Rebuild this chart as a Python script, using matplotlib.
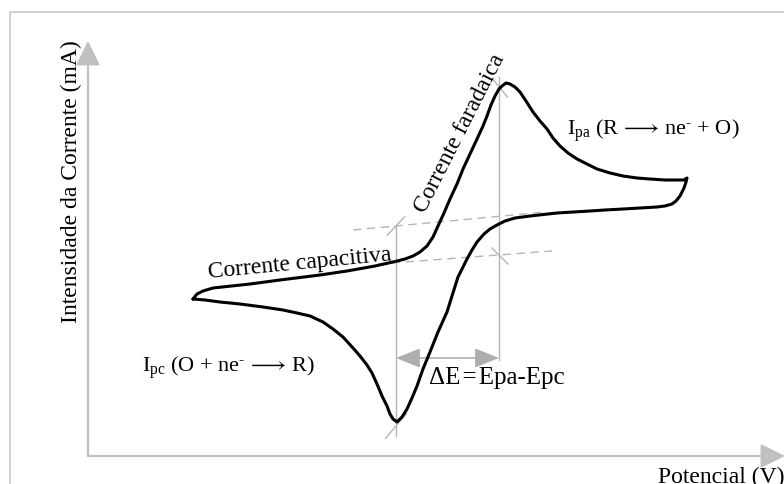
import matplotlib
matplotlib.use("Agg")
import matplotlib.pyplot as plt
from matplotlib.patches import FancyArrowPatch

plt.rcParams["font.family"] = ["Liberation Serif", "STIXGeneral", "DejaVu Serif"]
plt.rcParams["mathtext.fontset"] = "custom"
plt.rcParams["mathtext.rm"] = "Liberation Serif"
plt.rcParams["mathtext.it"] = "Liberation Serif:italic"
plt.rcParams["mathtext.fallback"] = "stix"

# Schematic cyclic voltammogram (arbitrary units)
# forward (anodic) scan, left vertex -> right vertex
E_fwd = [1.05, 1.09, 1.15, 1.25, 1.62, 1.92, 2.32, 2.59, 2.87, 3.05, 3.17, 3.25,
         3.32, 3.39, 3.45, 3.50, 3.56, 3.62, 3.69, 3.75, 3.82, 3.89, 3.95, 3.99,
         4.03, 4.07, 4.11, 4.14, 4.18, 4.22, 4.27, 4.32, 4.38, 4.45, 4.52, 4.59,
         4.65, 4.72, 4.80, 4.89, 4.99, 5.09, 5.22, 5.35, 5.49, 5.62, 5.77, 5.89,
         5.96, 5.99]
I_fwd = [1.57, 1.62, 1.65, 1.68, 1.72, 1.76, 1.81, 1.85, 1.90, 1.94, 1.97, 2.00,
         2.04, 2.10, 2.19, 2.30, 2.43, 2.57, 2.72, 2.87, 3.02, 3.17, 3.30, 3.40,
         3.51, 3.60, 3.67, 3.70, 3.73, 3.72, 3.69, 3.64, 3.55, 3.44, 3.35, 3.27,
         3.18, 3.10, 3.03, 2.97, 2.92, 2.87, 2.83, 2.80, 2.78, 2.77, 2.76, 2.76,
         2.76, 2.78]
# reverse (cathodic) scan, right vertex -> left vertex
E_rev = [5.98, 5.96, 5.92, 5.88, 5.84, 5.77, 5.69, 5.52, 5.35, 5.17, 5.02, 4.69,
         4.42, 4.27, 4.17, 4.09, 4.02, 3.96, 3.89, 3.84, 3.79, 3.74, 3.70, 3.64,
         3.59, 3.50, 3.42, 3.35, 3.29, 3.24, 3.19, 3.14, 3.09, 3.05, 3.02, 2.99,
         2.94, 2.89, 2.84, 2.79, 2.72, 2.65, 2.55, 2.45, 2.35, 2.22, 2.09, 1.95,
         1.75, 1.52, 1.32, 1.17, 1.05]
I_rev = [2.74, 2.68, 2.60, 2.55, 2.52, 2.50, 2.49, 2.48, 2.47, 2.46, 2.45, 2.43,
         2.40, 2.38, 2.35, 2.31, 2.27, 2.22, 2.14, 2.06, 1.97, 1.87, 1.79, 1.60,
         1.44, 1.24, 1.04, 0.87, 0.70, 0.58, 0.47, 0.39, 0.34, 0.37, 0.42, 0.50,
         0.60, 0.72, 0.83, 0.91, 1.00, 1.08, 1.19, 1.27, 1.34, 1.40, 1.43, 1.46,
         1.49, 1.52, 1.54, 1.56, 1.57]

# peak potentials / currents
Epc, Ipc = 3.08, 0.32
Epa, Ipa = 4.11, 3.68
# extrapolated baselines (start/end points)
base_upper_E = [2.65, 4.57]
base_upper_I = [2.26, 2.44]
base_lower_E = [2.90, 4.64]
base_lower_I = [1.92, 2.05]
# vertical guide extents
Epc_guide_I = [2.29, 0.20]
Epa_guide_I = [3.79, 0.96]
dE_level = 0.98

GRAY = "#b5b5b5"
AXIS_GRAY = "#c0c0c0"

fig = plt.figure(figsize=(7.84, 4.85), dpi=100)
ax = fig.add_axes([0, 0, 1, 1])
ax.set_xlim(-0.88, 6.96)
ax.set_ylim(-0.28, 4.57)
ax.axis("off")

# outer frame (left and top edges)
ax.plot([-0.78, -0.78, 6.96], [-0.28, 4.445, 4.445], color="#c8c8c8", lw=1.2,
        solid_capstyle="butt")

# axes with arrowheads
for tip in [(0.0, 4.15), (6.97, 0.0)]:
    ax.add_patch(FancyArrowPatch((0, 0), tip, arrowstyle="-|>,head_length=0.75,head_width=0.37",
                                 mutation_scale=20, color=AXIS_GRAY, lw=1.6,
                                 shrinkA=0, shrinkB=0))

# baselines
ax.plot(base_upper_E, base_upper_I, color=GRAY, lw=1.0, dashes=(6, 4))
ax.plot(base_lower_E, base_lower_I, color=GRAY, lw=1.0, dashes=(6, 4))

# vertical guides at the peak potentials
ax.plot([Epc, Epc], Epc_guide_I, color=GRAY, lw=1.0)
ax.plot([Epa, Epa], Epa_guide_I, color=GRAY, lw=1.0)

# tick marks where the guides meet the curve/baselines
def tick(x, y, sx, sy):
    ax.plot([x - sx, x + sx], [y - sy, y + sy], color=GRAY, lw=1.0)

tick(Epc, 2.30, 0.085, 0.09)
tick(Epc, Ipc - 0.02, 0.105, 0.125)
tick(Epa + 0.01, Ipa, 0.075, -0.09)
tick(Epa + 0.01, 2.00, 0.08, -0.08)

# peak separation arrow
ax.add_patch(FancyArrowPatch((Epc, dE_level), (Epa, dE_level),
                             arrowstyle="<|-|>,head_length=0.75,head_width=0.3",
                             mutation_scale=20, color="#aeaeae", lw=1.2,
                             shrinkA=0, shrinkB=0))

# voltammogram
ax.plot(E_fwd + E_rev, I_fwd + I_rev, color="black", lw=2.2,
        solid_joinstyle="round", solid_capstyle="round")

fs = 17
ax.text(-0.105, 2.75, "Intensidade da Corrente (mA)", rotation=90, rotation_mode="anchor",
        ha="center", va="baseline", fontsize=fs)
ax.text(5.70, -0.26, "Potencial (V)", ha="left", va="baseline", fontsize=fs)

ax.text(1.21, 1.79, "Corrente capacitiva", rotation=5.5, rotation_mode="anchor",
        ha="left", va="baseline", fontsize=fs)
ax.text(3.37, 2.43, "Corrente faradaica", rotation=63, rotation_mode="anchor",
        ha="left", va="baseline", fontsize=fs)
ax.text(4.79, 3.22, r"I$_{\mathregular{pa}}$ (R$\,\longrightarrow\,$ne$^{\text{-}}$ + O)",
        ha="left", va="baseline", fontsize=16)
ax.text(0.54, 0.85, r"I$_{\mathregular{pc}}$ (O + ne$^{\text{-}}$$\,\longrightarrow\,$R)",
        ha="left", va="baseline", fontsize=16)
ax.text(3.41, 0.73, "ΔE\u200a=\u200aEpa-Epc", ha="left", va="baseline", fontsize=18)

fig.savefig("out.png", dpi=100)
